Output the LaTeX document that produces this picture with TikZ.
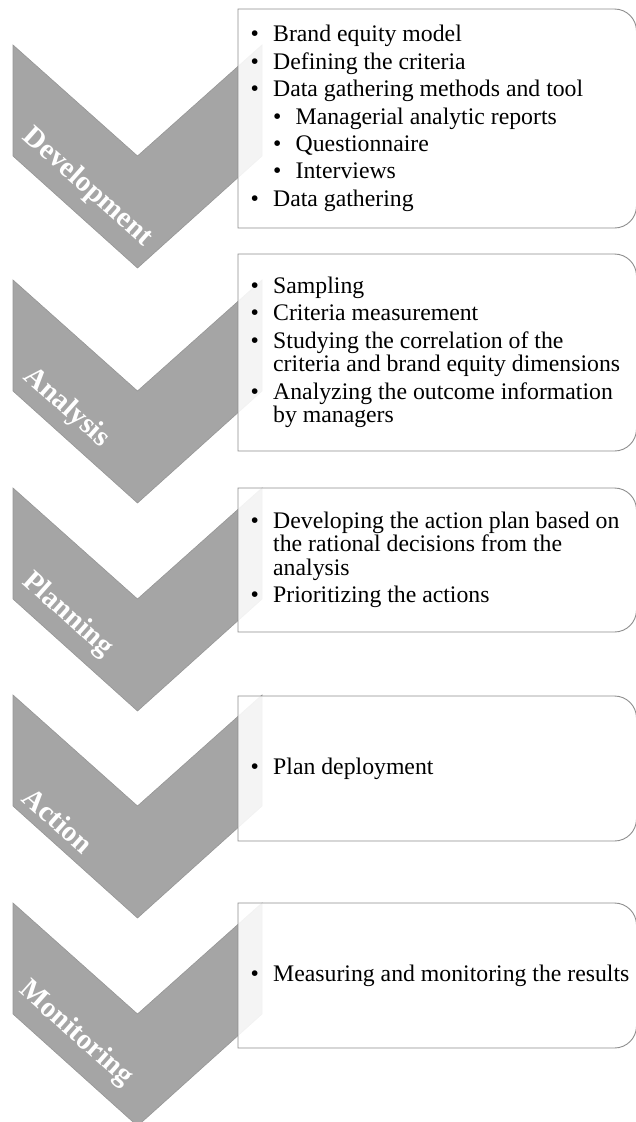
\documentclass[tikz,border=0pt]{standalone}
\usepackage{fontspec}
\setmainfont{Liberation Serif}
\definecolor{chevgray}{HTML}{A5A5A5}
\definecolor{chevedge}{HTML}{969696}
\definecolor{boxedge}{HTML}{8E8E8E}
\tikzset{
  chevshape/.style={fill=chevgray, draw=chevedge, line width=0.6pt, line join=miter},
  panel/.style={draw=boxedge, line width=0.9pt, fill=white, fill opacity=0.88},
  chevlabel/.style={text=white, font=\bfseries\fontsize{29}{29}\selectfont,
    rotate=-41.7, anchor=base west, inner sep=0pt},
  itemtext/.style={font=\fontsize{23.75}{23.5}\selectfont, align=left,
    anchor=west, inner sep=0pt, text=black},
}
% bullet markers for the two list levels
\newcommand\bul{\makebox[22.5pt][l]{•}}
\newcommand\cont{\hspace*{22.5pt}}
\newcommand\subbul{\hspace*{22.5pt}\makebox[22.5pt][l]{•}}
% one phase: chevron top, panel top, panel bottom, id, label, label x, label y, items
\newcommand\phaserow[8]{%
  \draw[chevshape] (13,#1) -- (137.5,{#1+111}) -- (262,#1) -- (262,{#1+111})
    -- (137.5,{#1+223}) -- (13,{#1+111}) -- cycle;
  \node[chevlabel] (lab#4) at (#6,#7) {#5};
  \draw[panel] (238,#2) -- (614.5,#2)
    .. controls (626.65,#2) and (636.5,{#2+9.85}) .. (636.5,{#2+22})
    -- (636.5,{#3-22})
    .. controls (636.5,{#3-9.85}) and (626.65,#3) .. (614.5,#3)
    -- (238,#3) -- cycle;
  \node[itemtext] (txt#4) at (250.5,{(#2+#3)/2}) {#8};
}
\begin{document}
\begin{tikzpicture}[x=1pt,y=-1pt]
\useasboundingbox (0,0) rectangle (636,1122);
\phaserow{45}{9}{228}{1}{Development}{21.7}{138.3}{%
  \bul Brand equity model\\[3.9pt]
  \bul Defining the criteria\\[3.9pt]
  \bul Data gathering methods and tool\\[3.9pt]
  \subbul Managerial analytic reports\\[3.9pt]
  \subbul Questionnaire\\[3.9pt]
  \subbul Interviews\\[3.9pt]
  \bul Data gathering}
\phaserow{280}{254}{451}{2}{Analysis}{22.7}{378}{%
  \bul Sampling\\[3.9pt]
  \bul Criteria measurement\\[3.9pt]
  \bul Studying the correlation of the\\
  \cont criteria and brand equity dimensions\\[3.9pt]
  \bul Analyzing the outcome information\\
  \cont by managers}
\phaserow{488}{488}{632}{3}{Planning}{21}{583}{%
  \bul Developing the action plan based on\\
  \cont the rational decisions from the\\
  \cont analysis\\[3.9pt]
  \bul Prioritizing the actions}
\phaserow{695}{696}{841}{4}{Action}{20.7}{800}{%
  \bul Plan deployment}
\phaserow{903}{903}{1048}{5}{Monitoring}{18.3}{991.7}{%
  \bul Measuring and monitoring the results}
\end{tikzpicture}
\end{document}
